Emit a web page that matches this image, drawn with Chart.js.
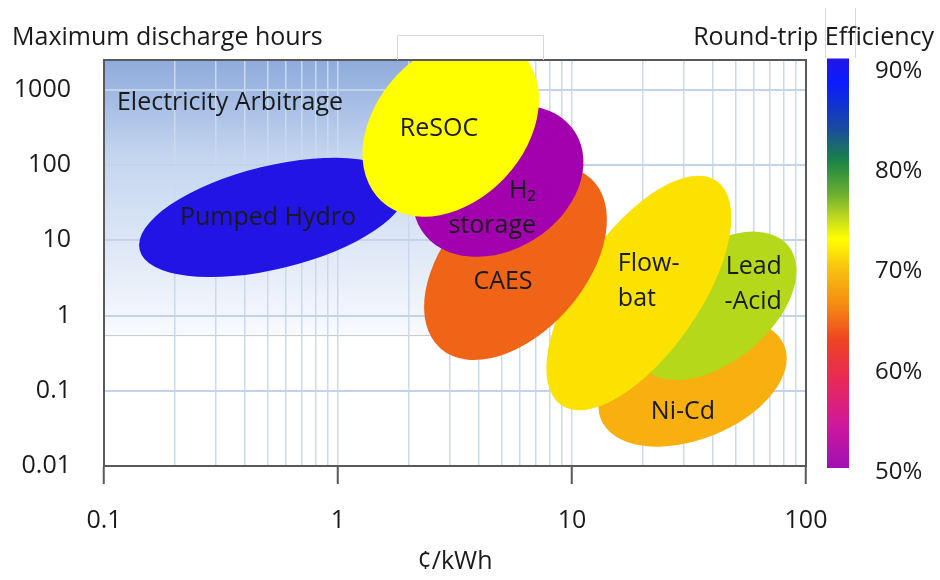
<!DOCTYPE html>
<html>
<head>
<meta charset="utf-8">
<title>Storage cost vs discharge time</title>
<script src="https://cdn.jsdelivr.net/npm/chart.js@4.4.1/dist/chart.umd.min.js"></script>
<style>
  body { margin: 0; background: #fff; }
  canvas { display: block; }
</style>
</head>
<body>
<canvas id="storageChart" width="940" height="580"></canvas>
<script>
// Storage technologies, drawn back to front
const technologies = ['Ni-Cd', 'Lead-Acid', 'Flow-bat', 'CAES', 'H2 storage', 'Pumped Hydro', 'ReSOC'];

// Each footprint: long axis from (costFrom, hoursFrom) to (costTo, hoursTo),
// plus the point where the short axis meets the edge (costSide, hoursSide)
const costFrom  = [13.3, 19.8, 8.98, 2.74, 2.27, 0.142, 1.53];
const hoursFrom = [0.0414, 0.215, 0.0647, 0.366, 13.7, 7.5, 33.4];
const costTo    = [80.7, 84.1, 41.5, 12.0, 10.3, 1.95, 6.01];
const hoursTo   = [0.402, 8.47, 61.6, 67.1, 276, 54.2, 3162];
const costSide  = [26.5, 28.8, 11.8, 3.43, 3.36, 0.468, 1.776];
const hoursSide = [0.641, 5.13, 5.76, 20.2, 361, 93.5, 1540];

// Where each name is written
const labelLines = [['Ni-Cd'], ['Lead', '-Acid'], ['Flow-', 'bat'], ['CAES'], ['H₂', 'storage'], ['Pumped Hydro'], ['ReSOC']];
const labelCost  = [29.8, 78.9, 15.7, 5.07, 7.02, 0.502, 2.70];
const labelHours = [0.0522, 2.59, 2.88, 2.80, 27.0, 19.9, 303];

// Shaded arbitrage band
const arbitrageCost  = [0.1, 4];
const arbitrageHours = [0.55, 2500];
const arbitrageText  = 'Electricity Arbitrage';
const arbitrageAt    = [0.3455, 671];

const costTicks = [0.1, 1, 10, 100];
const hourTicks = [0.01, 0.1, 1, 10, 100, 1000];
const effTicks  = [50, 60, 70, 80, 90];

// Styling
const fills = ['#f7b010', '#b6d81a', '#fbe200', '#f06418', '#a200ae', '#2314e6', '#ffff00'];
const labelAlign = ['center', 'right', 'left', 'center', 'right', 'center', 'center'];
const FONT = '"Open Sans", "DejaVu Sans", sans-serif';
const WEIGHT = 500;
const TEXT = '#1a1a1a';
const AXIS = '#595959';

function isDecade(v) {
  return costTicks.some(t => Math.abs(t - v) / t < 1e-6);
}

// gradient band behind the grid
const bandPlugin = {
  id: 'band',
  beforeDraw(chart) {
    const { ctx, scales: { x, y } } = chart;
    const x0 = x.getPixelForValue(arbitrageCost[0]);
    const x1 = x.getPixelForValue(arbitrageCost[1]);
    const y0 = Math.max(y.getPixelForValue(arbitrageHours[1]), chart.chartArea.top);
    const y1 = y.getPixelForValue(arbitrageHours[0]);
    const g = ctx.createLinearGradient(0, y0, 0, y1);
    g.addColorStop(0, '#8eabdc');
    g.addColorStop(0.35, '#c4d5ef');
    g.addColorStop(1, '#f8fafe');
    ctx.save();
    ctx.fillStyle = g;
    ctx.fillRect(x0, y0, x1 - x0, y1 - y0);
    ctx.strokeStyle = '#c6c6c6';
    ctx.lineWidth = 1;
    ctx.beginPath();
    ctx.moveTo(x0, y1 + 0.5);
    ctx.lineTo(x1, y1 + 0.5);
    ctx.stroke();
    ctx.restore();
  }
};

// footprints and their names
const ellipsePlugin = {
  id: 'footprints',
  afterDatasetsDraw(chart) {
    const { ctx, chartArea: a, scales: { x, y } } = chart;
    ctx.save();
    ctx.beginPath();
    ctx.rect(a.left, a.top, a.right - a.left, a.bottom - a.top);
    ctx.clip();
    chart.data.datasets.forEach((ds, i) => {
      const [p, q, s] = chart.getDatasetMeta(i).data;
      const cx = (p.x + q.x) / 2;
      const cy = (p.y + q.y) / 2;
      ctx.save();
      ctx.transform(q.x - cx, q.y - cy, s.x - cx, s.y - cy, cx, cy);
      ctx.beginPath();
      ctx.arc(0, 0, 1, 0, Math.PI * 2);
      ctx.restore();
      ctx.fillStyle = ds.backgroundColor;
      ctx.fill();
    });

    ctx.fillStyle = TEXT;
    ctx.font = WEIGHT + ' 25px ' + FONT;
    ctx.textBaseline = 'middle';
    ctx.textAlign = 'center';
    ctx.fillText(arbitrageText, x.getPixelForValue(arbitrageAt[0]), y.getPixelForValue(arbitrageAt[1]));

    labelLines.forEach((lines, i) => {
      const px = x.getPixelForValue(labelCost[i]);
      const py = y.getPixelForValue(labelHours[i]);
      const lh = 35;
      ctx.textAlign = labelAlign[i];
      lines.forEach((line, k) => {
        ctx.fillText(line, px, py + (k - (lines.length - 1) / 2) * lh);
      });
    });
    ctx.restore();
  }
};

// plot frame, colour bar and headings
const framePlugin = {
  id: 'frame',
  afterDraw(chart) {
    const { ctx, chartArea: a } = chart;
    ctx.save();
    ctx.strokeStyle = AXIS;
    ctx.lineWidth = 2;
    ctx.strokeRect(a.left, a.top, a.right - a.left, a.bottom - a.top);

    // empty text box outline above the plot
    ctx.strokeStyle = '#d8d8d8';
    ctx.lineWidth = 1;
    ctx.beginPath();
    ctx.moveTo(397.5, a.top);
    ctx.lineTo(397.5, 35.5);
    ctx.lineTo(543.5, 35.5);
    ctx.lineTo(543.5, a.top);
    ctx.moveTo(825.5, 8);
    ctx.lineTo(825.5, a.top - 2);
    ctx.moveTo(855.5, 8);
    ctx.lineTo(855.5, a.top - 2);
    ctx.stroke();

    const eff = chart.scales.eff;
    const top = eff.top - 1.5;
    const bottom = eff.bottom + 2;
    const g = ctx.createLinearGradient(0, top, 0, bottom);
    g.addColorStop(0.00, '#2314e8');
    g.addColorStop(0.06, '#0a1cff');
    g.addColorStop(0.17, '#1a4aa0');
    g.addColorStop(0.25, '#1b8446');
    g.addColorStop(0.33, '#6aae30');
    g.addColorStop(0.39, '#c2da1e');
    g.addColorStop(0.44, '#ffff00');
    g.addColorStop(0.51, '#f8c410');
    g.addColorStop(0.60, '#f58c12');
    g.addColorStop(0.69, '#ee4222');
    g.addColorStop(0.79, '#e8285a');
    g.addColorStop(0.89, '#d0189a');
    g.addColorStop(1.00, '#a010b2');
    ctx.fillStyle = g;
    ctx.fillRect(eff.left + 21, top, 22, bottom - top);

    ctx.fillStyle = TEXT;
    ctx.font = WEIGHT + ' 25px ' + FONT;
    ctx.textBaseline = 'alphabetic';
    ctx.textAlign = 'left';
    ctx.fillText('Maximum discharge hours', 12, 45);
    ctx.textAlign = 'right';
    ctx.fillText('Round-trip Efficiency', 934, 45);
    ctx.restore();
  }
};

// keep the plot box fixed: no extra room for overhanging tick labels
function noOverhang(scale) {
  scale.paddingTop = 0;
  scale.paddingBottom = 0;
  scale.paddingLeft = 0;
  scale.paddingRight = 0;
}

const ctx = document.getElementById('storageChart').getContext('2d');
new Chart(ctx, {
  type: 'scatter',
  data: {
    datasets: technologies.map((name, i) => ({
      label: name,
      data: [
        { x: costFrom[i], y: hoursFrom[i] },
        { x: costTo[i], y: hoursTo[i] },
        { x: costSide[i], y: hoursSide[i] }
      ],
      backgroundColor: fills[i],
      pointRadius: 0,
      pointHoverRadius: 0
    }))
  },
  options: {
    responsive: false,
    animation: false,
    events: [],
    layout: { padding: { top: 60, left: 0, right: 0, bottom: 0 } },
    plugins: {
      legend: { display: false },
      tooltip: { enabled: false }
    },
    scales: {
      x: {
        type: 'logarithmic',
        position: 'bottom',
        min: 0.1,
        max: 100,
        afterBuildTicks: scale => {
          const ticks = [];
          costTicks.slice(0, -1).forEach(d => {
            for (let m = 1; m < 10; m++) ticks.push({ value: m * d });
          });
          ticks.push({ value: costTicks[costTicks.length - 1] });
          scale.ticks = ticks;
        },
        afterFit: scale => { scale.height = 114; noOverhang(scale); },
        grid: {
          color: '#cad9ee',
          lineWidth: 1.5,
          tickLength: 18,
          tickWidth: 2,
          tickColor: c => (c.tick && isDecade(c.tick.value)) ? AXIS : 'rgba(0,0,0,0)'
        },
        border: { color: AXIS, width: 2 },
        ticks: {
          autoSkip: false,
          maxRotation: 0,
          padding: 22,
          color: TEXT,
          font: { family: FONT, size: 25, weight: WEIGHT },
          callback: v => {
            const t = costTicks.find(d => Math.abs(d - v) / d < 1e-6);
            return t === undefined ? '' : String(t);
          }
        },
        title: {
          display: true,
          text: '¢/kWh',
          color: TEXT,
          font: { family: FONT, size: 25, weight: WEIGHT },
          padding: { top: 0, bottom: 3 }
        }
      },
      y: {
        type: 'logarithmic',
        position: 'left',
        min: 0.01,
        max: 2500,
        afterBuildTicks: scale => { scale.ticks = hourTicks.map(v => ({ value: v })); },
        afterFit: scale => { scale.width = 104; noOverhang(scale); },
        grid: { color: '#c3d3ea', lineWidth: 2, drawTicks: false },
        border: { color: AXIS, width: 2 },
        ticks: {
          padding: 33,
          color: TEXT,
          font: { family: FONT, size: 25, weight: WEIGHT },
          callback: v => String(v)
        }
      },
      eff: {
        type: 'linear',
        position: 'right',
        min: 50.6,
        max: 91.1,
        afterBuildTicks: scale => { scale.ticks = effTicks.map(v => ({ value: v })); },
        afterFit: scale => { scale.width = 134; noOverhang(scale); },
        grid: { display: false, drawTicks: false },
        border: { display: false },
        ticks: {
          padding: 69,
          color: TEXT,
          font: { family: FONT, size: 24, weight: WEIGHT },
          callback: v => v + '%'
        }
      }
    }
  },
  plugins: [bandPlugin, ellipsePlugin, framePlugin]
});
</script>
</body>
</html>
